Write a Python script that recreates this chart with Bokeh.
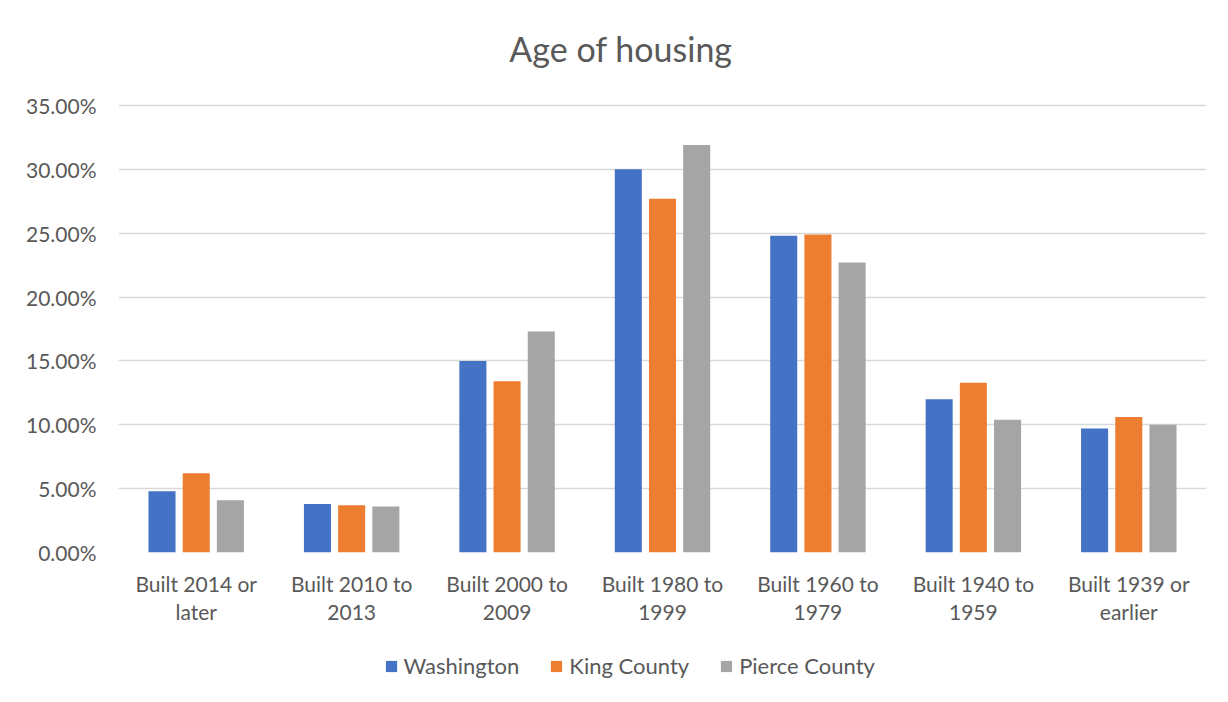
from bokeh.plotting import figure
from bokeh.layouts import column
from bokeh.models import (FactorRange, Range1d, PrintfTickFormatter, Legend, LegendItem,
                          Label, FixedTicker, ColumnDataSource)
from bokeh.transform import dodge
from bokeh.embed import file_html
from bokeh.resources import INLINE

# ---- data ----
categories = ["Built 2014 or later", "Built 2010 to 2013", "Built 2000 to 2009",
              "Built 1980 to 1999", "Built 1960 to 1979", "Built 1940 to 1959",
              "Built 1939 or earlier"]
washington = [4.8, 3.8, 15.0, 30.0, 24.8, 12.0, 9.7]
king_county = [6.2, 3.7, 13.4, 27.7, 24.9, 13.3, 10.6]
pierce_county = [4.1, 3.6, 17.3, 31.9, 22.7, 10.4, 10.0]
series_names = ["Washington", "King County", "Pierce County"]
series_colors = ["#4472C4", "#ED7D31", "#A5A5A5"]
y_ticks = [0, 5, 10, 15, 20, 25, 30, 35]
title_text = "Age of housing"

FONT = "Lato"
TXT = "#595959"

# layout (pixels, page coordinates)
W = 1228
H_MAIN, H_LEG = 640, 62
FRAME_LEFT = 118
FRAME_BOTTOM = 552
GRID_TOP = 105
y_max = y_ticks[-1] * FRAME_BOTTOM / (FRAME_BOTTOM - GRID_TOP)

labels = [c.rsplit(" ", 1)[0] + "\n" + c.rsplit(" ", 1)[1] for c in categories]
src = ColumnDataSource(dict(cat=labels, w=washington, k=king_county, p=pierce_county))
keys = ["w", "k", "p"]
offsets = [-0.22, 0.0, 0.22]

p = figure(width=W, height=H_MAIN, output_backend="svg", toolbar_location=None,
           x_range=FactorRange(*labels, range_padding=0), y_range=Range1d(0, y_max),
           min_border_left=FRAME_LEFT, min_border_right=22, min_border_top=0,
           min_border_bottom=H_MAIN - FRAME_BOTTOM)
p.outline_line_color = None
p.background_fill_color = "white"
p.border_fill_color = "white"

for key, off, col in zip(keys, offsets, series_colors):
    p.vbar(x=dodge("cat", off, range=p.x_range), top=key, width=0.174, bottom=0,
           source=src, fill_color=col, line_color=None)

# axes
p.yaxis.ticker = FixedTicker(ticks=y_ticks)
p.yaxis.formatter = PrintfTickFormatter(format="%.2f%%")
p.yaxis.axis_line_color = None
p.yaxis.major_tick_line_color = None
p.yaxis.minor_tick_line_color = None
p.yaxis.major_tick_out = 0
p.yaxis.major_label_standoff = 22
p.yaxis.major_label_text_font = FONT
p.yaxis.major_label_text_font_size = "21px"
p.yaxis.major_label_text_color = TXT

p.xaxis.axis_line_color = None
p.xaxis.major_tick_line_color = None
p.xaxis.major_tick_out = 0
p.xaxis.major_label_standoff = 18
p.xaxis.major_label_text_font = FONT
p.xaxis.major_label_text_font_size = "21px"
p.xaxis.major_label_text_color = TXT
p.xaxis.major_label_text_line_height = 1.15

p.xgrid.grid_line_color = None
p.ygrid.grid_line_color = "#d9d9d9"
p.ygrid.grid_line_width = 1.3

# title (inside the tall frame, above the 35% line)
p.add_layout(Label(x=620.5 - FRAME_LEFT, y=FRAME_BOTTOM - 48, x_units="screen", y_units="screen",
                   text=title_text, text_font=FONT, text_font_size="34px", text_color=TXT,
                   text_align="center", text_baseline="middle"))

# legend strip: same bars as hidden renderers, only used for the legend swatches
pl = figure(width=W, height=H_LEG, output_backend="svg", toolbar_location=None,
            x_range=p.x_range, y_range=Range1d(-200, -100), min_border=0,
            x_axis_location=None, y_axis_location=None)
pl.outline_line_color = None
pl.grid.visible = False
swatches = [pl.vbar(x=dodge("cat", off, range=pl.x_range), top=key, width=0.174, bottom=0,
                    source=src, fill_color=col, line_color=None, visible=False)
            for key, off, col in zip(keys, offsets, series_colors)]
items = [LegendItem(label=n, renderers=[r], index=0) for n, r in zip(series_names, swatches)]
legend = Legend(items=items, orientation="horizontal", location=(383.5 - FRAME_LEFT, 23),
                glyph_width=14, glyph_height=14, label_standoff=6, spacing=30,
                padding=0, margin=0, border_line_color=None, background_fill_alpha=0,
                label_text_font=FONT, label_text_font_size="22px", label_text_color=TXT,
                label_height=14, click_policy="none")
pl.add_layout(legend)

layout = column(p, pl, spacing=0)
open("out.html", "w").write(file_html(layout, INLINE))
